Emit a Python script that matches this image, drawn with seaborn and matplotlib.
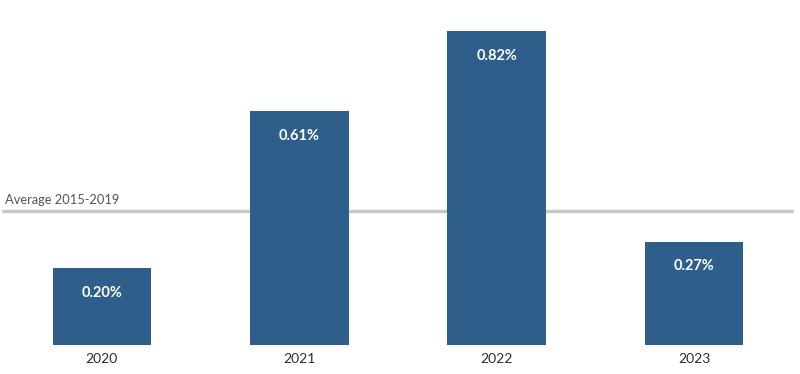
import matplotlib
matplotlib.use("Agg")
import matplotlib.pyplot as plt
import seaborn as sns
import pandas as pd

# Data
years = ["2020", "2021", "2022", "2023"]
values = [0.20, 0.61, 0.82, 0.27]
labels = ["0.20%", "0.61%", "0.82%", "0.27%"]
average_2015_2019 = 0.35

df = pd.DataFrame({"year": years, "value": values})

sns.set_style("white")
plt.rcParams["font.family"] = ["Lato", "DejaVu Sans"]

fig = plt.figure(figsize=(8, 3.74), dpi=100)
ax = fig.add_axes([0, 29 / 374, 1, 345 / 374])

sns.barplot(data=df, x="year", y="value", color="#2d5f8a", saturation=1,
            width=0.5, linewidth=0, ax=ax, zorder=3)

# average line 2015-2019
ax.axhline(average_2015_2019, color="#c8c8c8", lw=2.5, zorder=2,
           xmin=0.004, xmax=0.99)
ax.text(-0.492, average_2015_2019 + 0.012, "Average 2015-2019",
        color="#555555", fontsize=9.3, ha="left", va="bottom")

# value labels inside bars
for i, (v, lab) in enumerate(zip(values, labels)):
    ax.annotate(lab, (i, v), xytext=(0, -25), textcoords="offset pixels",
                ha="center", va="center", color="white", fontsize=10.5,
                fontweight="bold", zorder=4)

ax.set_xlim(-0.516, 3.537)
ax.set_ylim(0, 0.90)
ax.set_xlabel("")
ax.set_ylabel("")
ax.set_yticks([])
ax.tick_params(axis="x", length=0, pad=6, labelsize=10, labelcolor="#2b2b3a")
sns.despine(ax=ax, left=True, bottom=True)

fig.savefig("out.png", dpi=100)
